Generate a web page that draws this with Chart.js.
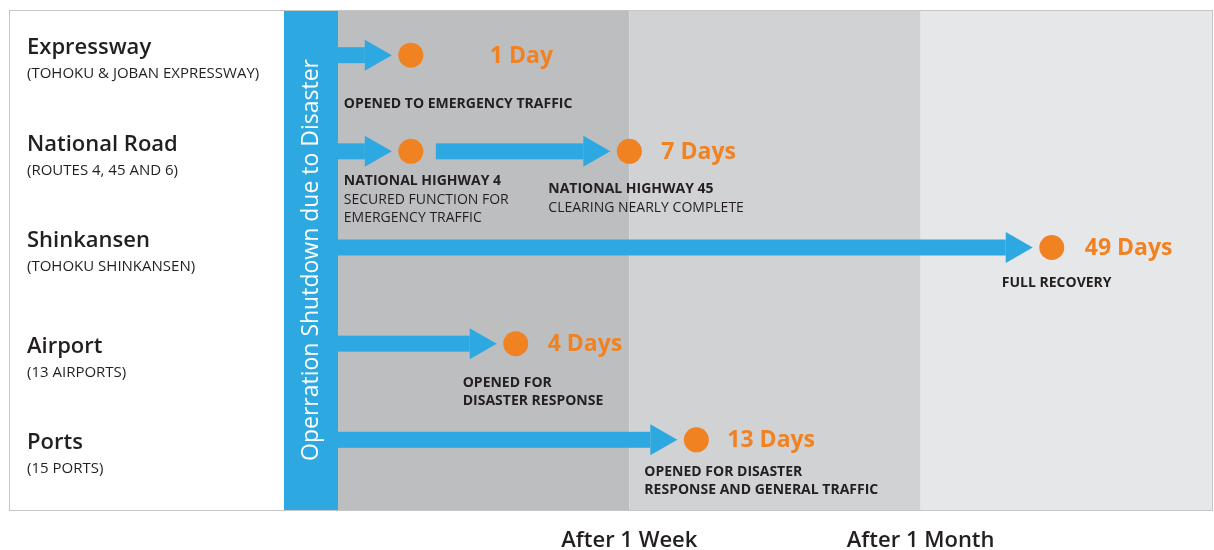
<!DOCTYPE html>
<html>
<head>
<meta charset="utf-8">
<script src="https://cdn.jsdelivr.net/npm/chart.js@4.4.0/dist/chart.umd.min.js"></script>
<style>
  html, body { margin: 0; padding: 0; background: #fff; }
</style>
</head>
<body>
<canvas id="recoveryChart" width="1214" height="550"></canvas>
<script>
// ---- data ----
const modes = ['Expressway', 'National Road', 'Shinkansen', 'Airport', 'Ports'];
const modeDetails = ['(TOHOKU & JOBAN EXPRESSWAY)', '(ROUTES 4, 45 AND 6)', '(TOHOKU SHINKANSEN)', '(13 AIRPORTS)', '(15 PORTS)'];

// phase boundaries on the timeline axis (0 = shutdown, 1 = after 1 week, 2 = after 1 month)
const phaseEdges = [0, 1, 2, 3];
const phaseLabels = ['', 'After 1 Week', 'After 1 Month'];
const shutdownLabel = 'Operration Shutdown due to Disaster';

// milestones: row, position on the timeline axis, days until reopened
const milestoneRow = [0, 1, 1, 2, 3, 4];
const milestonePos = [0.25, 0.25, 1.0, 2.45, 0.61, 1.23];
const milestoneDays = [1, null, 7, 49, 4, 13];
const milestoneNotes = [
  ['OPENED TO EMERGENCY TRAFFIC'],
  ['NATIONAL HIGHWAY 4', 'SECURED FUNCTION FOR', 'EMERGENCY TRAFFIC'],
  ['NATIONAL HIGHWAY 45', 'CLEARING NEARLY COMPLETE'],
  ['FULL RECOVERY'],
  ['OPENED FOR', 'DISASTER RESPONSE'],
  ['OPENED FOR DISASTER', 'RESPONSE AND GENERAL TRAFFIC']
];

// ---- layout / style ----
const FONT = '"Open Sans", sans-serif';
const BLUE = '#2ea8e0';
const ORANGE = '#f18222';
const INK = '#231f20';
const phaseColors = ['#bdbec0', '#d1d2d4', '#e6e7e8'];
const dayLabelDx = [79, 0, 32, 33, 32, 31];
const noteDx = [-67, -67, -81, -50, -53, -52];
const noteDy = [49, 30, 38, 36, 39, 32];
const noteBold = [1, 1, 1, 1, 2, 2];
const rowLabelShift = [0, 0, 0, 10, 10];

const backdrop = {
  id: 'backdrop',
  beforeDatasetsDraw(chart) {
    const { ctx, chartArea: a, scales: { x, y } } = chart;
    ctx.save();
    // frame around the whole graphic
    ctx.strokeStyle = '#c6c6c6';
    ctx.lineWidth = 1;
    ctx.strokeRect(9.5, a.top + 0.5, a.right - 9, a.bottom - a.top);

    // phase bands
    phaseColors.forEach((c, i) => {
      const l = x.getPixelForValue(phaseEdges[i]);
      const r = x.getPixelForValue(phaseEdges[i + 1]);
      ctx.fillStyle = c;
      ctx.fillRect(l, a.top + 1, r - l, a.bottom - a.top - 1);
    });

    // shutdown bar
    ctx.fillStyle = BLUE;
    ctx.fillRect(284, a.top + 1, a.left - 284, a.bottom - a.top - 1);
    ctx.save();
    ctx.translate(311, 260);
    ctx.rotate(-Math.PI / 2);
    ctx.fillStyle = '#fff';
    ctx.font = '23px ' + FONT;
    ctx.textAlign = 'center';
    ctx.textBaseline = 'middle';
    ctx.fillText(shutdownLabel, 0, 0);
    ctx.restore();

    // row labels
    ctx.fillStyle = INK;
    ctx.textAlign = 'left';
    ctx.textBaseline = 'middle';
    modes.forEach((m, i) => {
      const py = y.getPixelForValue(i) + rowLabelShift[i];
      ctx.font = '600 22px ' + FONT;
      ctx.fillText(m, 27, py - 7);
      ctx.font = '15px ' + FONT;
      ctx.fillText(modeDetails[i], 27, py + 19);
    });

    // phase labels under the bands
    ctx.textAlign = 'center';
    ctx.font = '600 22px ' + FONT;
    phaseLabels.forEach((t, i) => {
      if (t) ctx.fillText(t, x.getPixelForValue(phaseEdges[i]), 541);
    });

    // arrows from shutdown (or previous milestone) to each milestone
    ctx.fillStyle = BLUE;
    milestoneRow.forEach((row, k) => {
      let prev = -1;
      for (let j = 0; j < k; j++) if (milestoneRow[j] === row) prev = j;
      const x0 = prev < 0 ? a.left : x.getPixelForValue(milestonePos[prev]) + 25;
      const x1 = x.getPixelForValue(milestonePos[k]) - 19;
      const py = y.getPixelForValue(row);
      const headLen = 27;
      ctx.fillRect(x0, py - 8, x1 - headLen - x0, 16);
      ctx.beginPath();
      ctx.moveTo(x1 - headLen, py - 15.5);
      ctx.lineTo(x1, py);
      ctx.lineTo(x1 - headLen, py + 15.5);
      ctx.closePath();
      ctx.fill();
    });
    ctx.restore();
  },
  afterDatasetsDraw(chart) {
    const { ctx, scales: { x, y } } = chart;
    ctx.save();
    ctx.textAlign = 'left';
    ctx.textBaseline = 'middle';
    milestoneRow.forEach((row, k) => {
      const px = x.getPixelForValue(milestonePos[k]);
      const py = y.getPixelForValue(row);
      const d = milestoneDays[k];
      if (d !== null) {
        ctx.fillStyle = ORANGE;
        ctx.font = 'bold 23px ' + FONT;
        ctx.fillText(d === 1 ? '1 Day' : d + ' Days', px + dayLabelDx[k], py + 1);
      }
      ctx.fillStyle = INK;
      milestoneNotes[k].forEach((line, li) => {
        ctx.font = (li < noteBold[k] ? 'bold ' : '') + '14px ' + FONT;
        ctx.fillText(line, px + noteDx[k], py + noteDy[k] + li * 18.5);
      });
    });
    ctx.restore();
  }
};

const ctxEl = document.getElementById('recoveryChart');

new Chart(ctxEl, {
  type: 'scatter',
  data: {
    datasets: [{
      label: 'Milestones',
      data: milestonePos.map((p, k) => ({ x: p, y: milestoneRow[k] })),
      backgroundColor: ORANGE,
      borderWidth: 0,
      pointRadius: 12.5,
      pointHoverRadius: 12.5
    }]
  },
  options: {
    responsive: false,
    animation: false,
    events: [],
    layout: { autoPadding: false, padding: { left: 338, top: 10, right: 2, bottom: 40 } },
    plugins: { legend: { display: false }, tooltip: { enabled: false } },
    scales: {
      x: { type: 'linear', min: 0, max: 3, display: false },
      y: { type: 'linear', min: -0.47, max: 4.73, reverse: true, display: false }
    }
  },
  plugins: [backdrop]
});
</script>
</body>
</html>
